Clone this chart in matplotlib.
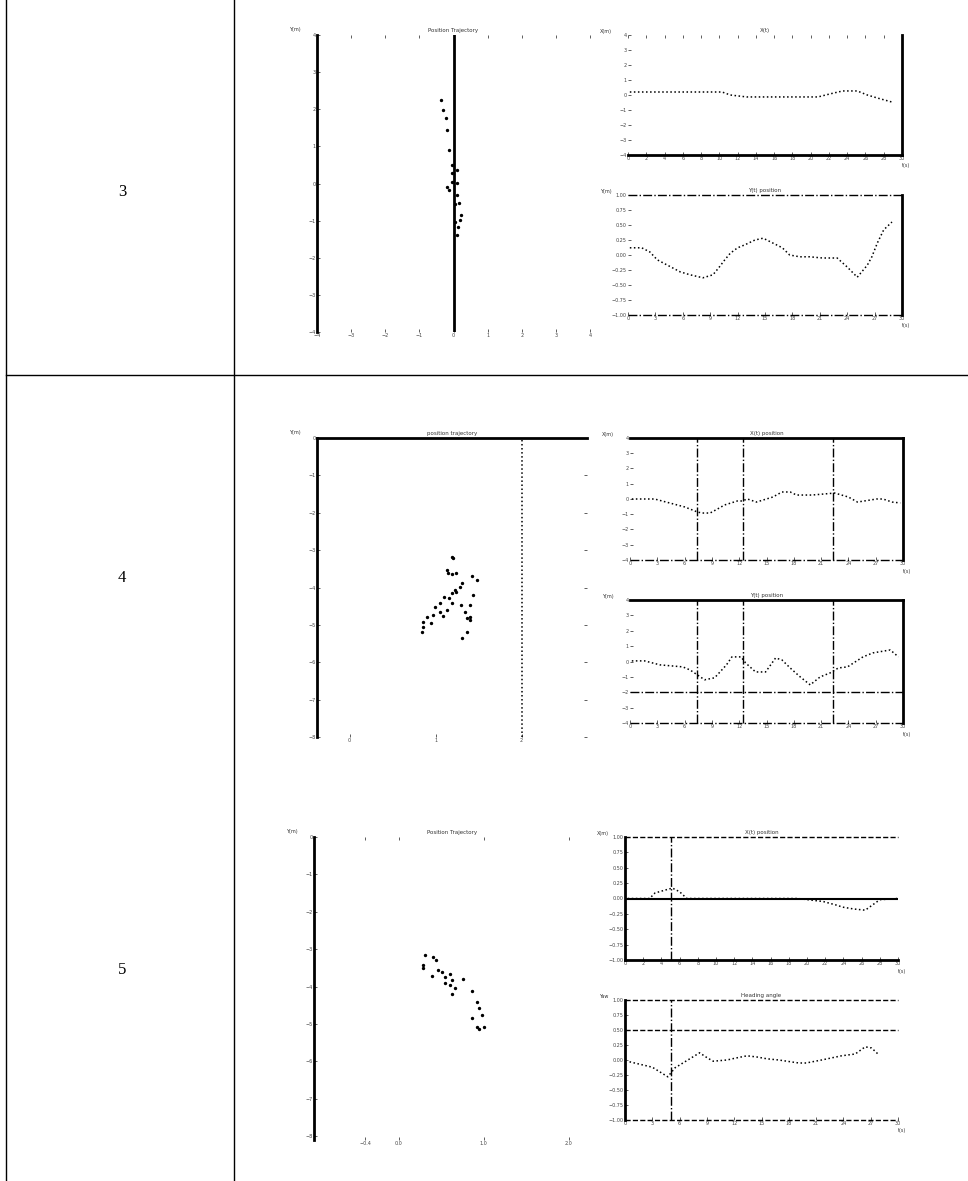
import matplotlib
matplotlib.use('Agg')
import matplotlib.pyplot as plt
from matplotlib.lines import Line2D

W, H = 968, 1181

# row labels of the table
row_labels = ['3', '4', '5']

# --- row 3 ---
r3_traj_x = [-0.36, -0.30, -0.23, -0.19, -0.12, -0.05, -0.05, -0.03, -0.19, -0.12,
             0.10, 0.10, 0.10, 0.03, 0.16, 0.21, 0.19, 0.14, 0.10, 0.03]
r3_traj_y = [2.25, 1.98, 1.76, 1.44, 0.90, 0.50, 0.28, 0.04, -0.09, -0.17,
             0.36, 0.01, -0.31, -0.55, -0.53, -0.85, -0.98, -1.17, -1.39, -1.04]
r3_t_top = [0.2, 2.4, 4.8, 6.6, 8.2, 10.3, 11.2, 13, 14.8, 15.5, 19.2, 20.8, 22.1, 23.5, 25.1, 26.2, 27.3, 28.9]
r3_v_top = [0.2, 0.2, 0.2, 0.2, 0.2, 0.2, 0.0, -0.13, -0.13, -0.13, -0.13, -0.13, 0.07, 0.27, 0.27, 0.0, -0.2, -0.47]
r3_t_bot = [0.2, 1.5, 2.4, 3.2, 5.7, 6.8, 8.2, 9.3, 9.9, 10.6, 11.2, 12.0, 12.8, 13.9, 14.8,
            16.9, 17.7, 18.8, 19.9, 21.3, 22.9, 24.0, 25.1, 26.2, 26.7, 27.3, 28.0, 28.9]
r3_v_bot = [0.12, 0.12, 0.05, -0.08, -0.28, -0.33, -0.38, -0.33, -0.22, -0.08, 0.03, 0.12, 0.17, 0.25, 0.28,
            0.12, 0.0, -0.03, -0.03, -0.05, -0.05, -0.2, -0.37, -0.17, -0.03, 0.2, 0.42, 0.55]

# --- row 4 ---
r4_traj_x = [1.19, 1.20, 1.13, 1.14, 1.19, 1.24, 1.42, 1.48, 1.31, 1.28, 1.22, 1.24, 1.19, 1.43, 1.10, 1.16,
             1.05, 1.19, 1.30, 1.40, 0.99, 1.13, 1.05, 0.97, 1.08, 1.34, 1.40, 0.90, 0.85, 0.95, 1.37, 1.40,
             0.85, 0.84, 1.37, 1.31]
r4_traj_y = [-3.18, -3.21, -3.53, -3.61, -3.64, -3.61, -3.69, -3.80, -3.88, -3.98, -4.06, -4.12, -4.14, -4.20,
             -4.25, -4.28, -4.41, -4.41, -4.47, -4.47, -4.52, -4.60, -4.65, -4.73, -4.76, -4.65, -4.79, -4.79,
             -4.92, -4.95, -4.81, -4.87, -5.05, -5.19, -5.19, -5.35]
r4_t_top = [0.2, 1.1, 2.7, 6.0, 6.6, 7.4, 7.9, 8.8, 9.6, 10.4, 11.8, 12.3, 12.9, 13.9, 15.7, 16.7, 17.6,
            18.3, 20.0, 22.5, 24.0, 25.0, 27.1, 27.8, 28.8, 29.7]
r4_v_top = [0.0, 0.0, 0.0, -0.52, -0.66, -0.85, -0.92, -0.92, -0.66, -0.39, -0.13, -0.13, 0.0, -0.2, 0.13,
            0.46, 0.46, 0.26, 0.26, 0.39, 0.13, -0.2, 0.0, 0.0, -0.2, -0.26]
r4_t_bot = [0.2, 1.6, 3.3, 5.8, 6.6, 7.4, 8.2, 9.3, 10.6, 11.2, 12.2, 12.7, 13.8, 14.9, 16.0, 16.7, 17.6,
            18.7, 19.8, 20.9, 22.0, 22.9, 23.9, 25.6, 26.7, 28.6, 29.5]
r4_v_bot = [0.04, 0.04, -0.22, -0.35, -0.55, -0.87, -1.19, -1.06, -0.22, 0.3, 0.3, -0.09, -0.68, -0.68, 0.23,
            0.1, -0.42, -1.0, -1.52, -1.0, -0.74, -0.42, -0.35, 0.3, 0.56, 0.75, 0.3]

# --- row 5 ---
r5_traj_x = [0.31, 0.40, 0.44, 0.28, 0.28, 0.46, 0.51, 0.60, 0.39, 0.54, 0.62, 0.75, 0.54, 0.60, 0.66,
             0.62, 0.86, 0.92, 0.94, 0.98, 0.86, 0.92, 0.94, 1.00]
r5_traj_y = [-3.15, -3.20, -3.28, -3.41, -3.49, -3.55, -3.60, -3.65, -3.71, -3.73, -3.81, -3.79, -3.89, -3.95,
             -4.03, -4.19, -4.13, -4.40, -4.56, -4.77, -4.83, -5.07, -5.12, -5.07]
r5_t_top = [0.3, 2.7, 3.3, 5.2, 6.0, 6.8, 9.7, 10.4, 11.2, 12.6, 16.0, 19.0, 21.8, 23.3, 23.9, 25.1, 26.4, 28.0, 29.9]
r5_v_top = [0.0, 0.0, 0.09, 0.17, 0.11, 0.0, 0.0, 0.0, 0.0, 0.0, 0.0, 0.0, -0.05, -0.11, -0.14, -0.17, -0.19, -0.02, 0.0]
r5_t_bot = [0.5, 3.0, 4.7, 5.5, 8.2, 9.1, 9.7, 11.2, 12.1, 13.4, 14.5, 15.6, 16.9, 19.1, 19.9, 21.6,
            23.8, 25.3, 26.4, 27.1, 27.8]
r5_v_bot = [-0.03, -0.12, -0.28, -0.13, 0.12, 0.03, -0.02, 0.0, 0.03, 0.07, 0.05, 0.02, 0.0, -0.05, -0.05,
            0.0, 0.07, 0.1, 0.22, 0.2, 0.1]

plt.rcParams['font.family'] = ['DejaVu Sans']
fig = plt.figure(figsize=(W / 100, H / 100), dpi=100)
fig.patch.set_facecolor('white')


def box(l, t, r, b):
    return [l / W, 1 - b / H, (r - l) / W, (b - t) / H]


def small(ax, title, unit, xlabel=None):
    ax.set_title(title, fontsize=4, pad=2, color='#333333')
    ax.tick_params(labelsize=3.5, direction='in', length=2, width=0.6, colors='#444444', pad=1)
    ax.text(-0.06, 1.01, unit, transform=ax.transAxes, fontsize=3.5, color='#333333', ha='right', va='bottom')
    if xlabel:
        ax.text(1.0, -0.07, xlabel, transform=ax.transAxes, fontsize=3.5, color='#333333', ha='left', va='top')
    for s in ax.spines.values():
        s.set_visible(False)


def thick(ax, *sides):
    for s in sides:
        ax.spines[s].set_visible(True)
        ax.spines[s].set_linewidth(2)
        ax.spines[s].set_color('black')


dot = dict(color='black', ls=':', lw=1.1)
dash = dict(color='black', ls='-.', lw=1.0, clip_on=False)
dashed = dict(color='black', ls='--', lw=1.0, clip_on=False)

# ---------- table lines ----------
fig.add_artist(Line2D([6 / W, 6 / W], [0, 1], color='black', lw=1))
fig.add_artist(Line2D([234 / W, 234 / W], [0, 1], color='black', lw=1))
fig.add_artist(Line2D([6 / W, 1], [1 - 375 / H, 1 - 375 / H], color='black', lw=1))
for lab, y in zip(row_labels, [192, 578, 970]):
    fig.text(122 / W, 1 - y / H, lab, fontsize=12, family='Liberation Serif', ha='center', va='center')

# ---------- row 3 ----------
ax = fig.add_axes(box(317, 35, 590, 332))
small(ax, 'Position Trajectory', 'Y(m)')
thick(ax, 'left')
ax.scatter(r3_traj_x, r3_traj_y, s=2, color='black')
ax.axvline(0, color='black', lw=2)
ax.set_xlim(-4, 4)
ax.set_ylim(-4, 4)
ax.xaxis.set_ticks_position('both')

ax = fig.add_axes(box(628, 35, 902, 155))
small(ax, 'X(t)', 'X(m)', 't(s)')
thick(ax, 'bottom', 'right')
ax.plot(r3_t_top, r3_v_top, **dot)
ax.set_xlim(0, 30)
ax.set_ylim(-4, 4)
ax.set_xticks(range(0, 31, 2))
ax.xaxis.set_ticks_position('both')

ax = fig.add_axes(box(628, 195, 902, 315))
small(ax, 'Y(t) position', 'Y(m)', 't(s)')
thick(ax, 'right')
ax.plot(r3_t_bot, r3_v_bot, **dot)
ax.axhline(1, **dash)
ax.axhline(-1, **dash)
ax.set_xlim(0, 30)
ax.set_ylim(-1, 1)
ax.set_xticks(range(0, 31, 3))

# ---------- row 4 ----------
ax = fig.add_axes(box(317, 438, 587, 737))
small(ax, 'position trajectory', 'Y(m)')
thick(ax, 'top', 'left')
ax.scatter(r4_traj_x, r4_traj_y, s=2, color='black')
ax.axvline(2, **dot)
ax.set_xlim(-0.38, 2.76)
ax.set_ylim(-8, 0)
ax.set_xticks([0, 1, 2])
ax.set_yticks(range(-8, 1))
ax.yaxis.set_ticks_position('both')

ax = fig.add_axes(box(630, 438, 903, 560))
small(ax, 'X(t) position', 'X(m)', 't(s)')
thick(ax, 'top', 'right')
ax.plot(r4_t_top, r4_v_top, **dot)
ax.axhline(-4, **dash)
for v in [7.4, 12.4, 22.3]:
    ax.axvline(v, **dash)
ax.set_xlim(0, 30)
ax.set_ylim(-4, 4)
ax.set_xticks(range(0, 31, 3))

ax = fig.add_axes(box(630, 600, 903, 723))
small(ax, 'Y(t) position', 'Y(m)', 't(s)')
thick(ax, 'top', 'right')
ax.plot(r4_t_bot, r4_v_bot, **dot)
ax.axhline(-2, **dash)
ax.axhline(-4, **dash)
for v in [7.4, 12.4, 22.3]:
    ax.axvline(v, **dash)
ax.set_xlim(0, 30)
ax.set_ylim(-4, 4)
ax.set_xticks(range(0, 31, 3))

# ---------- row 5 ----------
ax = fig.add_axes(box(314, 837, 590, 1140))
small(ax, 'Position Trajectory', 'Y(m)')
thick(ax, 'left')
ax.scatter(r5_traj_x, r5_traj_y, s=2, color='black')
ax.set_xlim(-1, 2.25)
ax.set_ylim(-8.1, 0)
ax.set_xticks([-0.4, 0, 1, 2])
ax.xaxis.set_ticks_position('both')

ax = fig.add_axes(box(625, 837, 898, 960))
small(ax, 'X(t) position', 'X(m)', 't(s)')
thick(ax, 'left', 'bottom')
ax.plot(r5_t_top, r5_v_top, **dot)
ax.axhline(0, color='black', lw=1.5)
ax.axhline(1, **dashed)
ax.axvline(5, **dash)
ax.set_xlim(0, 30)
ax.set_ylim(-1, 1)
ax.set_xticks(range(0, 31, 2))

ax = fig.add_axes(box(625, 1000, 898, 1120))
small(ax, 'Heading angle', 'Yaw', 't(s)')
thick(ax, 'left')
ax.plot(r5_t_bot, r5_v_bot, **dot)
ax.axhline(1, **dashed)
ax.axhline(0.5, **dashed)
ax.axhline(-1, **dashed)
ax.axvline(5, **dash)
ax.set_xlim(0, 30)
ax.set_ylim(-1, 1)
ax.set_xticks(range(0, 31, 3))

fig.savefig('out.png', dpi=100)
